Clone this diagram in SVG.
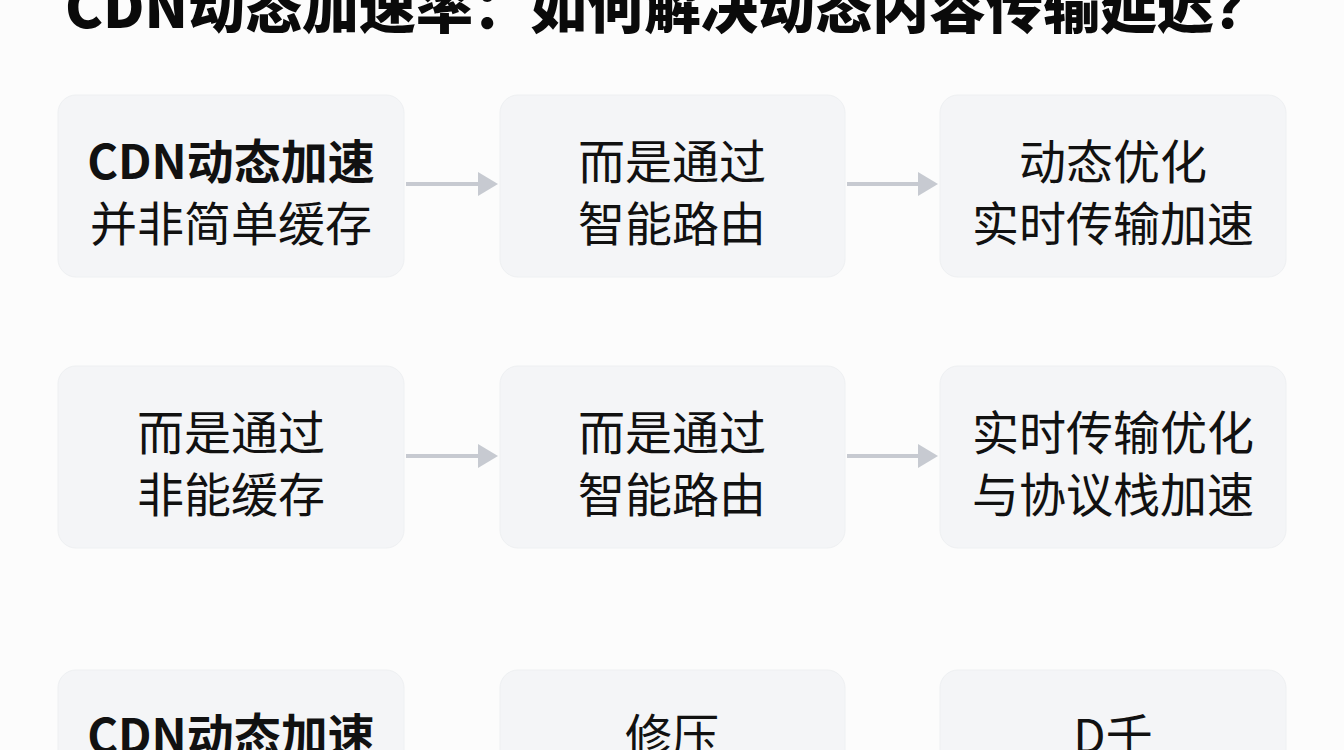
<svg xmlns="http://www.w3.org/2000/svg" width="1344" height="750" viewBox="0 0 1344 750">
  <defs>
    <style>
      .box { fill: #f4f5f7; stroke: #eef0f2; stroke-width: 1; }
      .t { font-family: "Noto Sans CJK SC", "Noto Sans", sans-serif; font-size: 47px; fill: #111111; text-anchor: middle; }
      .b { font-weight: 700; }
      .title { font-family: "Noto Sans CJK SC", "Noto Sans", sans-serif; font-size: 57px; font-weight: 900; fill: #0a0a0a; text-anchor: middle; }
      .arrow { stroke: #c7cad1; stroke-width: 4; fill: none; }
    </style>
    <marker id="ah" markerWidth="5" markerHeight="6" refX="0" refY="3" orient="auto" markerUnits="strokeWidth">
      <path d="M0,0 L5,3 L0,6 Z" fill="#c7cad1"/>
    </marker>
  </defs>
  <rect width="1344" height="750" fill="#fcfcfc"/>
  <g id="title">
    <text class="title" x="668" y="28">CDN动态加速率：如何解决动态内容传输延迟？</text>
  </g>
  <g id="connectors">
    <line class="arrow" x1="406" y1="184" x2="478" y2="184" marker-end="url(#ah)"/>
    <line class="arrow" x1="847" y1="184" x2="918" y2="184" marker-end="url(#ah)"/>
    <line class="arrow" x1="406" y1="456" x2="478" y2="456" marker-end="url(#ah)"/>
    <line class="arrow" x1="847" y1="456" x2="918" y2="456" marker-end="url(#ah)"/>
  </g>
  <g id="n1">
    <rect class="box" x="58" y="95" width="346" height="182" rx="18"/>
    <text class="t b" x="231" y="179">CDN动态加速</text>
    <text class="t" x="231" y="241">并非简单缓存</text>
  </g>
  <g id="n2">
    <rect class="box" x="500" y="95" width="345" height="182" rx="18"/>
    <text class="t" x="672" y="179">而是通过</text>
    <text class="t" x="672" y="241">智能路由</text>
  </g>
  <g id="n3">
    <rect class="box" x="940" y="95" width="346" height="182" rx="18"/>
    <text class="t" x="1113" y="179">动态优化</text>
    <text class="t" x="1113" y="241">实时传输加速</text>
  </g>
  <g id="n4">
    <rect class="box" x="58" y="366" width="346" height="182" rx="18"/>
    <text class="t" x="231" y="450">而是通过</text>
    <text class="t" x="231" y="512">非能缓存</text>
  </g>
  <g id="n5">
    <rect class="box" x="500" y="366" width="345" height="182" rx="18"/>
    <text class="t" x="672" y="450">而是通过</text>
    <text class="t" x="672" y="512">智能路由</text>
  </g>
  <g id="n6">
    <rect class="box" x="940" y="366" width="346" height="182" rx="18"/>
    <text class="t" x="1113" y="450">实时传输优化</text>
    <text class="t" x="1113" y="512">与协议栈加速</text>
  </g>
  <g id="n7">
    <rect class="box" x="58" y="670" width="346" height="182" rx="18"/>
    <text class="t b" x="231" y="753">CDN动态加速</text>
  </g>
  <g id="n8">
    <rect class="box" x="500" y="670" width="345" height="182" rx="18"/>
    <text class="t" x="672" y="753">修压</text>
  </g>
  <g id="n9">
    <rect class="box" x="940" y="670" width="346" height="182" rx="18"/>
    <text class="t" x="1113" y="753">D千</text>
  </g>
</svg>
